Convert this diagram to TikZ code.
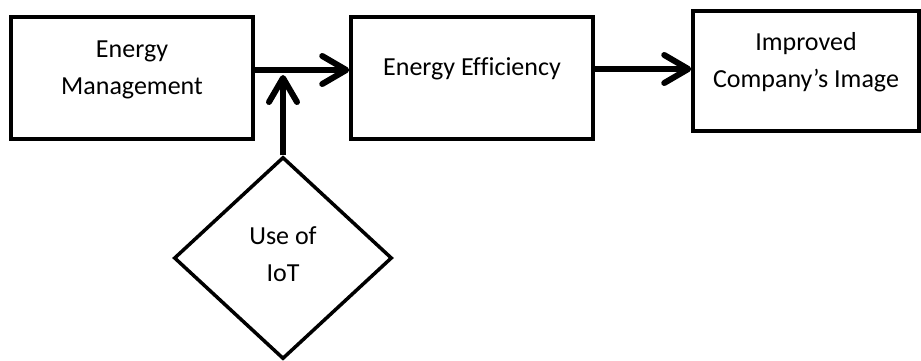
\documentclass[tikz,border=0pt]{standalone}
\usepackage{fontspec}
\setmainfont{Carlito}[Ligatures=NoCommon]
\usetikzlibrary{shapes.geometric,arrows.meta}
\tikzstyle{block}=[draw,line width=3.5pt,minimum width=242pt,minimum height=122pt,inner sep=0pt]
\tikzstyle{choice}=[diamond,draw,line width=3.5pt,minimum width=218pt,minimum height=202pt,inner sep=0pt]
\tikzstyle{caption}=[align=center,font=\fontsize{26pt}{37pt}\selectfont]
\tikzstyle{flow}=[line width=6pt,-{Straight Barb[length=24pt,width=28pt,round]}]

\begin{document}
\begin{tikzpicture}[x=1pt,y=-1pt]
\useasboundingbox (0,0) rectangle (921,361);
\node[block] (em) at (132,78) {};
\node[caption] (emtxt) at (132,70) {Energy\\Management};
\node[block] (ee) at (472,78) {};
\node[caption] (eetxt) at (472,69) {Energy Efficiency};
\node[block,minimum width=226pt,minimum height=120pt] (ci) at (806,71) {};
\node[caption] (citxt) at (806,62) {Improved\\Company’s Image};
\node[choice] (iot) at (283,258) {};
\node[caption] (iottxt) at (283,254) {Use of\\IoT};
\draw[flow] ([yshift=8pt]em.east) -- ([yshift=8pt]ee.west);
\draw[flow] (iot.north) -- ([yshift=3pt]iot.north |- em.east);
\draw[flow] ([yshift=9pt]ee.east) -- ([yshift=9pt]ee.east -| ci.west);
\end{tikzpicture}
\end{document}
